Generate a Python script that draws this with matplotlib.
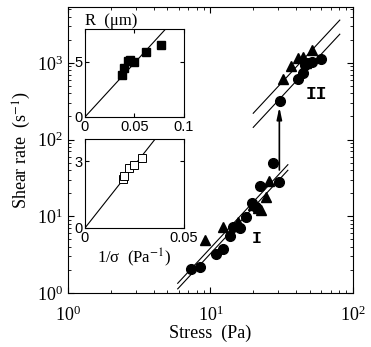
import numpy as np
import matplotlib
matplotlib.use("Agg")
import matplotlib.pyplot as plt

plt.rcParams["font.family"] = "Liberation Serif"
plt.rcParams["mathtext.fontset"] = "stix"

# main panel: shear rate vs stress
circ_x = [7.3, 8.4, 10.9, 12.2, 13.7, 14.5, 16.1, 17.7, 19.5, 21.0, 22.3, 27.6, 30.3,
          30.7, 41.3, 44.8, 46.0, 48.0, 51.3, 59.6]
circ_y = [2.04, 2.2, 3.2, 3.75, 5.5, 7.2, 7.0, 9.9, 14.8, 13.0, 24.4, 49.0, 28.3,
          319, 613, 747, 942, 1000, 1040, 1117]
tri_x = [9.15, 12.3, 15.7, 19.8, 21.7, 22.6, 24.5, 25.9, 32.4, 37.1, 41.3, 44.8, 47.0, 51.3]
tri_y = [4.9, 7.3, 8.5, 14.0, 12.7, 12.0, 18.0, 29.2, 613, 913, 1150, 1208, 1000, 1479]

# gamma_dot = A * sigma^2 fits
fitI_x = [5.9, 35.0]
fitI_A = [0.0383, 0.0324]
fitII_x = [20.0, 81.0]
fitII_A = [0.55, 0.36]

jump_x = 30.5
jump_y = [40, 265]

# insets
R_inv_sigma = [0.037, 0.0397, 0.0431, 0.0455, 0.0498, 0.0616, 0.0768]
R_um = [3.82, 4.48, 5.12, 5.2, 5.03, 5.91, 6.55]
R_slope = 98.0
R2_inv_sigma = [0.019, 0.0199, 0.0222, 0.0249, 0.0286]
R2_um = [2.19, 2.34, 2.71, 2.83, 3.16]
R2_slope = 113.0

fig = plt.figure(figsize=(3.71, 3.47), dpi=100)
ax = fig.add_axes([0.183, 0.156, 0.768, 0.823])

for x0, A_list in ((fitI_x, fitI_A), (fitII_x, fitII_A)):
    xs = np.logspace(np.log10(x0[0]), np.log10(x0[1]), 20)
    for A in A_list:
        ax.plot(xs, A * xs**2, color="black", lw=0.8)

ax.plot(circ_x, circ_y, "o", color="black", ms=7)
ax.plot(tri_x, tri_y, "^", color="black", ms=7)
ax.annotate("", xy=(jump_x, jump_y[1]), xytext=(jump_x, jump_y[0]),
            arrowprops=dict(arrowstyle="-|>,head_length=0.7,head_width=0.15",
                            color="black", lw=1.2, shrinkA=0, shrinkB=0))
ax.text(21.2, 5.06, "I", family="Liberation Mono", fontweight="bold", fontsize=12,
        ha="center", va="center")
ax.text(55.9, 382, "II", family="Liberation Mono", fontweight="bold", fontsize=13,
        ha="center", va="center")

ax.set_xscale("log")
ax.set_yscale("log")
ax.set_xlim(1, 100)
ax.set_ylim(1, 5300)
ax.set_xlabel("Stress  (Pa)", fontsize=13, labelpad=0)
ax.set_ylabel("Shear rate  (s$^{-1}$)", fontsize=13, labelpad=3)
ax.tick_params(which="both", direction="in", top=True, right=True, labelsize=13)
ax.tick_params(axis="x", which="major", pad=9)
ax.tick_params(which="major", length=4)
ax.tick_params(which="minor", length=2)

def style_inset(a):
    a.tick_params(direction="in", top=True, right=True, length=3, labelsize=10.5, pad=2,
                  labelfontfamily="Liberation Sans")

ins1 = fig.add_axes([0.229, 0.663, 0.267, 0.254])
xs = np.array([0, 0.1])
ins1.plot(xs, R_slope * xs, color="black", lw=0.8)
ins1.plot(R_inv_sigma, R_um, "s", color="black", ms=6)
ins1.set_xlim(0, 0.1)
ins1.set_ylim(0, 8)
ins1.set_xticks([0, 0.05, 0.1])
ins1.set_xticklabels(["0", "0.05", "0.1"])
ins1.set_yticks([0, 5])
ins1.set_yticklabels(["0", "5"])
style_inset(ins1)
ins1.set_title("R  (\u03bcm)", fontsize=12, loc="left", pad=3)

ins2 = fig.add_axes([0.229, 0.343, 0.267, 0.256])
xs = np.array([0, 0.05])
ins2.plot(xs, R2_slope * xs, color="black", lw=0.8)
ins2.plot(R2_inv_sigma, R2_um, "s", mfc="white", mec="black", mew=0.7, ms=6)
ins2.set_xlim(0, 0.05)
ins2.set_ylim(0, 4)
ins2.set_xticks([0, 0.05])
ins2.set_xticklabels(["0", "0.05"])
ins2.set_yticks([0, 3])
ins2.set_yticklabels(["0", "3"])
style_inset(ins2)
ins2.set_xlabel("1/\u03c3  (Pa$^{-1}$)", fontsize=12, labelpad=1)

fig.savefig("out.png", dpi=100)
